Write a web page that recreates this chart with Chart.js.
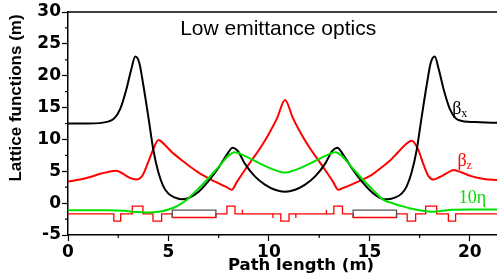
<!DOCTYPE html>
<html>
<head>
<meta charset="utf-8">
<script src="https://cdn.jsdelivr.net/npm/chart.js@4"></script>
<style>
  body { margin: 0; background: #fff; }
  #latticeChart { width: 497px; height: 280px; position: relative; }
</style>
</head>
<body>
<div id="latticeChart"></div>
<script>
// Horizontal beta function (m) vs path length (m)
const betaXPos = [0, 1.0, 2.0, 2.3, 2.6, 2.9, 3.15, 3.35, 3.55, 3.75, 4.0, 4.25, 4.5, 4.75, 5.0, 5.3, 5.65, 6.0, 6.5, 7.0,
    7.5, 7.9, 8.2, 8.45, 8.8, 9.3, 9.8, 10.3, 10.8, 11.3, 11.8, 12.3, 12.8, 13.15, 13.4, 13.7, 14.1, 14.6, 15.1, 15.55,
    15.9, 16.3, 16.6, 16.85, 17.1, 17.35, 17.6, 17.85, 18.05, 18.25, 18.45, 18.7, 19.0, 19.3, 19.6, 20.5, 21.4];
const betaXVal = [12.5, 12.5, 12.8, 13.3, 14.8, 17.8, 21.0, 23.0, 22.0, 18.5, 13.5, 8.3, 4.8, 2.6, 1.5, 0.9, 0.6, 0.8, 1.8, 3.5,
    5.6, 7.6, 8.7, 8.2, 6.2, 4.2, 2.9, 2.1, 1.8, 2.1, 2.9, 4.2, 6.2, 8.2, 8.7, 7.6, 5.6, 3.5, 1.8, 0.8,
    0.6, 0.9, 1.5, 2.6, 4.8, 8.3, 13.5, 18.5, 22.0, 23.0, 21.0, 17.8, 14.8, 13.3, 12.9, 12.7, 12.6];

// Vertical beta function
const betaZPos = [0, 0.6, 1.1, 1.6, 2.0, 2.4, 2.75, 3.05, 3.4, 3.7, 4.0, 4.25, 4.5, 4.8, 5.2, 5.6, 6.0, 6.5, 7.0, 7.5,
    7.9, 8.15, 8.4, 8.8, 9.2, 9.6, 10.0, 10.4, 10.8, 11.2, 11.6, 12.0, 12.4, 12.8, 13.2, 13.45, 13.7, 14.1, 14.6, 15.1,
    15.6, 16.0, 16.4, 16.8, 17.1, 17.4, 17.7, 17.95, 18.2, 18.5, 18.85, 19.2, 19.6, 20.1, 20.7, 21.4];
const betaZVal = [3.4, 3.7, 4.1, 4.6, 4.9, 5.1, 4.6, 4.0, 3.7, 4.3, 6.5, 8.5, 9.9, 9.2, 7.9, 6.9, 5.9, 4.8, 3.9, 3.1,
    2.5, 2.1, 3.3, 5.2, 7.0, 8.8, 10.9, 13.3, 16.2, 13.3, 10.9, 8.8, 7.0, 5.2, 3.3, 2.1, 2.4, 2.9, 3.6, 4.4,
    5.6, 6.6, 7.9, 9.2, 9.8, 8.6, 6.0, 4.2, 3.7, 4.1, 4.7, 5.2, 4.8, 4.2, 3.8, 3.6];

// Dispersion x 10
const etaPos = [0, 1.0, 2.0, 2.8, 3.4, 4.0, 4.6, 5.0, 5.4, 5.9, 6.4, 6.9, 7.55, 8.0, 8.3, 8.6, 9.2, 9.7, 10.2, 10.8,
    11.4, 11.9, 12.4, 13.0, 13.3, 13.6, 14.05, 14.7, 15.2, 15.7, 16.2, 16.6, 17.0, 17.5, 18.1, 18.6, 19.1, 20.0, 21.4];
const etaVal = [-1.1, -1.1, -1.1, -1.2, -1.4, -1.45, -1.3, -1.0, -0.5, 0.5, 2.0, 3.6, 5.9, 7.5, 8.0, 7.7, 6.8, 6.0, 5.3, 4.8,
    5.3, 6.0, 6.8, 7.7, 8.0, 7.5, 5.9, 3.6, 2.0, 0.5, -0.05, -0.45, -0.8, -1.1, -1.35, -1.2, -1.05, -1.0, -1.0];

// Magnet lattice drawn under the curves (positions in m, levels in plot units)
const quadStart = [2.28, 3.2, 4.23, 7.91, 10.59, 13.23, 16.88, 17.8, 18.93];
const quadEnd = [2.62, 3.73, 4.66, 8.31, 11.0, 13.66, 17.3, 18.35, 19.29];
const quadSign = [-1, 1, -1, 1, -1, 1, -1, 1, -1];
const dipoleStart = [5.19, 14.19];
const dipoleEnd = [7.36, 16.35];
const sextPos = [8.68, 10.2, 11.34, 12.86];
const sextSign = [1, -1, -1, 1];
const latticeBase = -1.67;
const quadUp = -0.47;
const quadDown = -2.83;
const sextUp = -1.05;
const sextDown = -2.35;
const dipoleTop = -1.1;
const dipoleBottom = -2.25;

// Axes
const xMin = 0, xMax = 21.35, xStep = 5;
const yMin = -5, yMax = 30, yStep = 5;
const minorStep = 2.5;

const activeCharts = {};

function toPoints(pos, val) {
    return pos.map((p, i) => ({ x: p, y: val[i] }));
}

function buildLatticeLine() {
    const elems = [];
    quadStart.forEach((s, i) => elems.push({ s, e: quadEnd[i], lvl: quadSign[i] > 0 ? quadUp : quadDown }));
    dipoleStart.forEach((s, i) => elems.push({ s, e: dipoleEnd[i], lvl: dipoleBottom }));
    sextPos.forEach((s, i) => elems.push({ s, e: s, lvl: sextSign[i] > 0 ? sextUp : sextDown }));
    elems.sort((a, b) => a.s - b.s);
    const pts = [{ x: xMin, y: latticeBase }];
    elems.forEach(el => {
        pts.push({ x: el.s, y: latticeBase }, { x: el.s, y: el.lvl }, { x: el.e, y: el.lvl }, { x: el.e, y: latticeBase });
    });
    pts.push({ x: xMax, y: latticeBase });
    return pts;
}

function buildDipoleOutline() {
    const pts = [];
    dipoleStart.forEach((s, i) => {
        const e = dipoleEnd[i];
        pts.push({ x: s, y: dipoleBottom }, { x: s, y: dipoleTop }, { x: e, y: dipoleTop }, { x: e, y: dipoleBottom }, { x: e, y: null });
    });
    return pts;
}

const overlayPlugin = {
    id: 'overlay',
    afterDraw(chart) {
        const { ctx, chartArea, scales } = chart;
        const xs = scales.x, ys = scales.y;
        ctx.save();

        // top frame
        ctx.strokeStyle = '#000';
        ctx.lineWidth = 1.5;
        ctx.beginPath();
        ctx.moveTo(chartArea.left, chartArea.top);
        ctx.lineTo(chartArea.right, chartArea.top);
        ctx.stroke();

        // minor ticks
        ctx.lineWidth = 1.2;
        ctx.beginPath();
        xs.ticks.forEach(t => {
            const v = t.value + minorStep;
            if (v < xs.max) {
                const px = xs.getPixelForValue(v);
                ctx.moveTo(px, chartArea.bottom);
                ctx.lineTo(px, chartArea.bottom + 3);
            }
        });
        ys.ticks.forEach(t => {
            const v = t.value + minorStep;
            if (v < ys.max) {
                const py = ys.getPixelForValue(v);
                ctx.moveTo(chartArea.left, py);
                ctx.lineTo(chartArea.left - 3, py);
            }
        });
        ctx.stroke();

        // chart title inside the frame
        ctx.fillStyle = '#000';
        ctx.font = '21px "Liberation Sans", Arial, sans-serif';
        ctx.textAlign = 'center';
        ctx.textBaseline = 'middle';
        ctx.fillText('Low emittance optics', xs.getPixelForValue(10.46), ys.getPixelForValue(27.3));

        // axis titles
        ctx.font = 'bold 16.5px "DejaVu Sans", sans-serif';
        ctx.fillText('Path length (m)', 301, 266);
        ctx.font = 'bold 17px "Liberation Sans", Arial, sans-serif';
        ctx.save();
        ctx.translate(16.5, 98);
        ctx.rotate(-Math.PI / 2);
        ctx.fillText('Lattice functions (m)', 0, 0);
        ctx.restore();

        // curve labels
        ctx.textAlign = 'left';
        ctx.textBaseline = 'alphabetic';
        const labels = [
            { main: 'β', sub: 'x', at: [19.12, 14.0], color: '#000' },
            { main: 'β', sub: 'z', at: [19.38, 5.8], color: '#ff0000' },
            { main: '10η', sub: '', at: [19.45, 0.1], color: '#00e000' }
        ];
        labels.forEach(l => {
            const px = xs.getPixelForValue(l.at[0]);
            const py = ys.getPixelForValue(l.at[1]);
            ctx.fillStyle = l.color;
            ctx.font = '18px "Liberation Serif", "DejaVu Serif", serif';
            ctx.fillText(l.main, px, py);
            const w = ctx.measureText(l.main).width;
            if (l.sub) {
                ctx.font = '12px "Liberation Serif", "DejaVu Serif", serif';
                ctx.fillText(l.sub, px + w, py + 3);
            }
        });
        ctx.restore();
    }
};

function renderLatticeChart(containerId) {
    // 1. Data
    const datasets = [
        { label: '10 eta', data: toPoints(etaPos, etaVal), borderColor: '#00e000', borderWidth: 2 },
        { label: 'beta x', data: toPoints(betaXPos, betaXVal), borderColor: '#000000', borderWidth: 2 },
        { label: 'beta z', data: toPoints(betaZPos, betaZVal), borderColor: '#ff0000', borderWidth: 2 },
        { label: 'dipoles', data: buildDipoleOutline(), borderColor: '#555555', borderWidth: 1.3, cubicInterpolationMode: 'default', tension: 0, spanGaps: false },
        { label: 'lattice', data: buildLatticeLine(), borderColor: '#ff0000', borderWidth: 1.3, cubicInterpolationMode: 'default', tension: 0 }
    ].map(ds => Object.assign({ pointRadius: 0, fill: false, cubicInterpolationMode: 'monotone' }, ds));

    // 2. Chart Rendering
    const chartContainer = document.getElementById(containerId);
    if (!chartContainer) {
        return;
    }
    chartContainer.innerHTML = '<canvas></canvas>';
    const ctx = chartContainer.querySelector('canvas').getContext('2d');

    const tickFont = { family: '"DejaVu Sans", sans-serif', size: 17, weight: 'bold' };

    const chartOptions = {
        responsive: true,
        maintainAspectRatio: false,
        animation: false,
        layout: { padding: { top: 12, right: 0, left: 0, bottom: 0 } },
        plugins: {
            legend: { display: false },
            tooltip: { enabled: false },
            title: { display: false }
        },
        scales: {
            x: {
                type: 'linear',
                min: xMin,
                max: xMax,
                border: { color: '#000', width: 1.5 },
                grid: { drawOnChartArea: false, drawTicks: true, tickLength: 6, tickWidth: 1.2, tickColor: '#000' },
                ticks: { stepSize: xStep, includeBounds: false, color: '#000', font: tickFont, padding: 1, maxRotation: 0 },
                afterFit: scale => { scale.height = 45; }
            },
            y: {
                type: 'linear',
                min: yMin,
                max: yMax,
                border: { color: '#000', width: 1.5 },
                grid: { drawOnChartArea: false, drawTicks: true, tickLength: 6, tickWidth: 1.2, tickColor: '#000' },
                ticks: { stepSize: yStep, includeBounds: false, color: '#000', font: tickFont, padding: 1 },
                afterFit: scale => { scale.width = 68; }
            }
        }
    };

    if (activeCharts[containerId]) {
        activeCharts[containerId].destroy();
    }
    activeCharts[containerId] = new Chart(ctx, {
        type: 'line',
        data: { datasets },
        options: chartOptions,
        plugins: [overlayPlugin]
    });
}

renderLatticeChart('latticeChart');
</script>
</body>
</html>
